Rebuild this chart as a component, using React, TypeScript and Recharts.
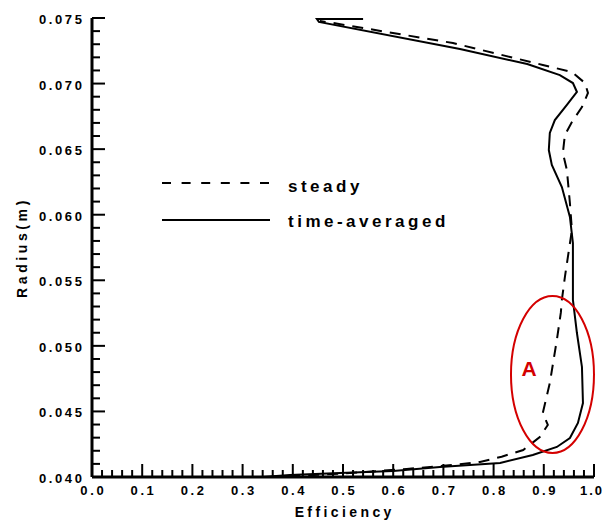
import React from 'react';
import { ScatterChart, Scatter, XAxis, YAxis, Legend, ReferenceDot, Label } from 'recharts';

// labelled ticks
const effTicks = [0, 0.1, 0.2, 0.3, 0.4, 0.5, 0.6, 0.7, 0.8, 0.9, 1.0];
const radiusTicks = [0.04, 0.045, 0.05, 0.055, 0.06, 0.065, 0.07, 0.075];

// [efficiency, radius], hub to tip
const steady: [number, number][] = [
  [0.355, 0.04], [0.494, 0.04025], [0.627, 0.04061], [0.719, 0.04092], [0.773, 0.04115],
  [0.816, 0.04155], [0.859, 0.04206], [0.892, 0.04305], [0.908, 0.04397], [0.898, 0.04488],
  [0.912, 0.04717], [0.926, 0.05045], [0.934, 0.05255], [0.936, 0.0535], [0.942, 0.05525],
  [0.948, 0.05678], [0.956, 0.05883], [0.952, 0.06089], [0.946, 0.06341], [0.938, 0.06471],
  [0.942, 0.06608], [0.956, 0.06707], [0.976, 0.06821], [0.988, 0.06928], [0.982, 0.07004],
  [0.956, 0.07088], [0.898, 0.07142], [0.719, 0.07309], [0.48, 0.07462], [0.454, 0.07477],
];

const timeAveraged: [number, number][] = [
  [0.34, 0.04], [0.394, 0.04015], [0.494, 0.0403], [0.6, 0.04045], [0.693, 0.04076],
  [0.813, 0.04107], [0.878, 0.04168], [0.926, 0.04229], [0.952, 0.04297], [0.968, 0.04412],
  [0.978, 0.04564], [0.976, 0.04839], [0.966, 0.05098], [0.958, 0.0535], [0.958, 0.05578],
  [0.958, 0.05784], [0.952, 0.05983], [0.936, 0.06211], [0.916, 0.06379], [0.91, 0.06493],
  [0.912, 0.06623], [0.922, 0.06722], [0.946, 0.06837], [0.966, 0.06936], [0.958, 0.07004],
  [0.932, 0.07065], [0.867, 0.07149], [0.733, 0.07264], [0.452, 0.0747], [0.448, 0.07492],
  [0.54, 0.07492],
];

// annotation "A" and its ring, in data units
const ringCenter = [0.9173, 0.04782];
const markerA = [0.8705, 0.04831];

const toPoints = (arr: [number, number][]) => arr.map(([eff, r]) => ({ eff, r }));

// 4 unlabelled minor ticks between labelled ones
const subdivide = (major: number[], parts: number, digits: number) => {
  const out: number[] = [];
  for (let i = 0; i < major.length - 1; i++) {
    for (let k = 0; k < parts; k++) {
      out.push(+(major[i] + ((major[i + 1] - major[i]) * k) / parts).toFixed(digits));
    }
  }
  out.push(major[major.length - 1]);
  return out;
};

const xAllTicks = subdivide(effTicks, 5, 2);
const yAllTicks = subdivide(radiusTicks, 5, 3);

const FONT = '"Liberation Sans", Arial, Helvetica, sans-serif';
const red = '#d40000';

const renderXTick = (props: any) => {
  const { x, y, payload } = props;
  const v = payload.value;
  const major = Math.abs(v * 10 - Math.round(v * 10)) < 1e-6;
  const last = v >= 1;
  return (
    <g>
      <line x1={x} y1={y} x2={x} y2={y - (major ? 13 : 7)} stroke="#000" strokeWidth={2} />
      {major && (
        <text x={last ? x + 10 : x + 1.3} y={y + 18} textAnchor={last ? 'end' : 'middle'} fontFamily={FONT}
          fontWeight="bold" fontSize={13} letterSpacing={last ? 2 : 2.6} fill="#000">
          {v.toFixed(1)}
        </text>
      )}
    </g>
  );
};

const renderYTick = (props: any) => {
  const { x, y, payload } = props;
  const v = payload.value;
  const major = Math.round(v * 1000) % 5 === 0;
  return (
    <g>
      <line x1={x} y1={y} x2={x + (major ? 13 : 8)} y2={y} stroke="#000" strokeWidth={2} />
      {major && (
        <text x={x - 7.5} y={y + 6} textAnchor="end" fontFamily={FONT} fontWeight="bold"
          fontSize={13} letterSpacing={2.6} fill="#000">
          {v.toFixed(3)}
        </text>
      )}
    </g>
  );
};

const renderXTitle = (props: any) => {
  const vb = props.viewBox;
  return (
    <text x={vb.x + vb.width / 2 + 1.7} y={vb.y + 40} textAnchor="middle" fontFamily={FONT}
      fontWeight="bold" fontSize={14} letterSpacing={3.4} fill="#000">
      Efficiency
    </text>
  );
};

const renderYTitle = (props: any) => {
  const vb = props.viewBox;
  const cx = vb.x + 27;
  const cy = vb.y + vb.height / 2;
  return (
    <text x={cx} y={cy} transform={`rotate(-90, ${cx}, ${cy})`} textAnchor="middle" fontFamily={FONT}
      fontWeight="bold" fontSize={14} letterSpacing={3.6} fill="#000">
      Radius(m)
    </text>
  );
};

const legendText = { fontFamily: FONT, fontWeight: 'bold', fontSize: 17, letterSpacing: 3.5 } as const;

const renderLegend = () => (
  <svg width={320} height={64} style={{ display: 'block', overflow: 'visible' }}>
    <line x1={0} y1={13} x2={107} y2={13} stroke="#000" strokeWidth={2} strokeDasharray="9 10.6" />
    <text x={126} y={21.5} {...legendText} fill="#000">steady</text>
    <line x1={0} y1={50} x2={108} y2={50} stroke="#000" strokeWidth={2} />
    <text x={126} y={56.5} {...legendText} fill="#000">time-averaged</text>
  </svg>
);

const noDot = () => <g />;

export default function App() {
  return (
    <div style={{ position: 'absolute', left: 0, top: 0, background: '#fff' }}>
      <ScatterChart width={605} height={520} margin={{ top: 18, right: 11, bottom: 0, left: 0 }}>
        <XAxis
          type="number"
          dataKey="eff"
          domain={[0, 1]}
          ticks={xAllTicks}
          interval={0}
          tickSize={0}
          tickMargin={0}
          tickLine={false}
          axisLine={{ stroke: '#000', strokeWidth: 3 }}
          tick={renderXTick}
          height={43}
          allowDataOverflow
        >
          <Label content={renderXTitle} />
        </XAxis>
        <YAxis
          type="number"
          dataKey="r"
          domain={[0.04, 0.075]}
          ticks={yAllTicks}
          interval={0}
          tickSize={0}
          tickMargin={0}
          tickLine={false}
          axisLine={{ stroke: '#000', strokeWidth: 3 }}
          tick={renderYTick}
          width={92}
          allowDataOverflow
        >
          <Label content={renderYTitle} />
        </YAxis>
        <Legend
          layout="vertical"
          align="center"
          verticalAlign="middle"
          content={renderLegend}
          wrapperStyle={{ left: 162, top: 170, width: 320, height: 64 }}
        />
        <Scatter
          name="steady"
          data={toPoints(steady)}
          fill="#000"
          line={{ stroke: '#000', strokeWidth: 2, strokeDasharray: '11 8' }}
          shape={noDot}
          isAnimationActive={false}
        />
        <Scatter
          name="time-averaged"
          data={toPoints(timeAveraged)}
          fill="#000"
          line={{ stroke: '#000', strokeWidth: 2 }}
          shape={noDot}
          isAnimationActive={false}
        />
        <ReferenceDot
          x={ringCenter[0]}
          y={ringCenter[1]}
          r={0}
          ifOverflow="visible"
          shape={(p: any) => (
            <ellipse cx={p.cx} cy={p.cy} rx={41.5} ry={78.5} fill="none" stroke={red} strokeWidth={2} />
          )}
        />
        <ReferenceDot
          x={markerA[0]}
          y={markerA[1]}
          r={0}
          ifOverflow="visible"
          shape={(p: any) => (
            <text x={p.cx} y={p.cy + 7.5} textAnchor="middle" fontFamily={FONT} fontWeight="bold"
              fontSize={21} fill={red}>
              A
            </text>
          )}
        />
      </ScatterChart>
    </div>
  );
}
